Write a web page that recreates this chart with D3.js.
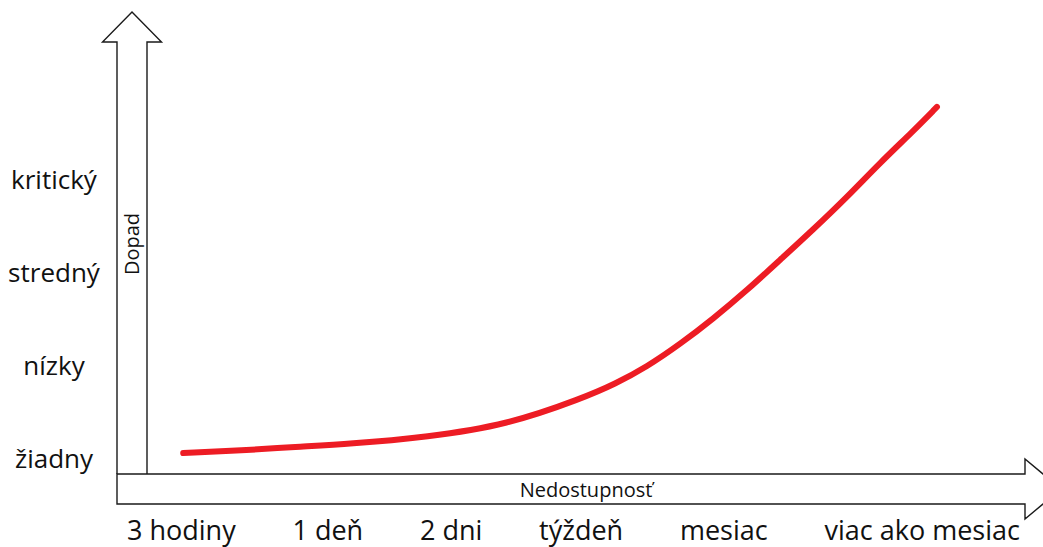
<!DOCTYPE html>
<html><head><meta charset="utf-8">
<script src="https://cdn.jsdelivr.net/npm/d3@7"></script>
<style>html,body{margin:0;padding:0;background:#fff}svg{display:block}</style>
</head><body>
<svg id="chart" width="1043" height="547"></svg>
<script>
// ---- data ----
const impactLevels = ["žiadny", "nízky", "stredný", "kritický"];
const durationLabels = ["3 hodiny", "1 deň", "2 dni", "týždeň", "mesiac", "viac ako mesiac"];
const yAxisTitle = "Dopad";
const xAxisTitle = "Nedostupnosť";
// curve: share of unavailability span (0..1) vs impact level (0..3)
const curveX = [0.073, 0.147, 0.194, 0.257, 0.342, 0.430, 0.514, 0.549, 0.584, 0.621, 0.657, 0.695, 0.731, 0.767, 0.805, 0.841, 0.878, 0.904];
const curveY = [0.075, 0.108, 0.140, 0.172, 0.247, 0.376, 0.667, 0.817, 1.000, 1.247, 1.516, 1.828, 2.151, 2.473, 2.828, 3.194, 3.538, 3.796];

// ---- layout ----
const svg = d3.select("#chart");
const font = "'Open Sans', sans-serif";
const x = d3.scaleLinear().domain([0, 1]).range([117, 1024]);
const y = d3.scaleLinear().domain([0, 3]).range([460, 181]);

const axisStroke = "#1a1a1a";
// vertical arrow (Dopad)
const vx0 = 117, vx1 = 147, vTop = 42, vTip = 12, vBottom = 474, headW = 29.5;
const vcx = (vx0 + vx1) / 2;
svg.append("path")
  .attr("d", `M${vx1},${vBottom} L${vx1},${vTop} L${vcx + headW},${vTop} L${vcx},${vTip} L${vcx - headW},${vTop} L${vx0},${vTop} L${vx0},${vBottom}`)
  .attr("fill", "#fff").attr("stroke", axisStroke).attr("stroke-width", 1.4);
// horizontal arrow (Nedostupnosť)
const hy0 = 474, hy1 = 504, hEnd = 1025, hTip = 1061, hHead = 30;
const hcy = (hy0 + hy1) / 2;
svg.append("path")
  .attr("d", `M${vx0},${hy0} L${hEnd},${hy0} L${hEnd},${hcy - hHead} L${hTip},${hcy} L${hEnd},${hcy + hHead} L${hEnd},${hy1} L${vx0},${hy1} Z`)
  .attr("fill", "#fff").attr("stroke", axisStroke).attr("stroke-width", 1.4);

// axis titles
svg.append("text")
  .attr("transform", `translate(${vcx + 7},244) rotate(-90)`)
  .attr("text-anchor", "middle")
  .attr("font-family", font).attr("font-size", 20).attr("fill", "#111")
  .text(yAxisTitle);
svg.append("text")
  .attr("x", 586).attr("y", 497)
  .attr("text-anchor", "middle")
  .attr("font-family", font).attr("font-size", 20).attr("fill", "#111")
  .text(xAxisTitle);

// y level labels
svg.selectAll("text.level").data(impactLevels).join("text")
  .attr("class", "level")
  .attr("x", 54).attr("y", (d, i) => y(i) + 8)
  .attr("text-anchor", "middle")
  .attr("font-family", font).attr("font-size", 26).attr("fill", "#111")
  .text(d => d);

// x duration labels laid out in sequence with equal gaps
const xl = svg.selectAll("text.dur").data(durationLabels).join("text")
  .attr("class", "dur")
  .attr("y", 540)
  .attr("font-family", font).attr("font-size", 27).attr("fill", "#111")
  .text(d => d);
const widths = xl.nodes().map(n => n.getComputedTextLength());
const startX = 127, endX = 1020;
const totalW = d3.sum(widths);
const gap = (endX - startX - totalW) / (durationLabels.length - 1);
let cur = startX;
xl.attr("x", (d, i) => { const v = cur; cur += widths[i] + gap; return v; });

// curve
const pts = curveX.map((v, i) => [x(v), y(curveY[i])]);
svg.append("path")
  .datum(pts)
  .attr("d", d3.line().curve(d3.curveBasis))
  .attr("fill", "none").attr("stroke", "#ed1c24")
  .attr("stroke-width", 6).attr("stroke-linecap", "round");
</script>
</body></html>
